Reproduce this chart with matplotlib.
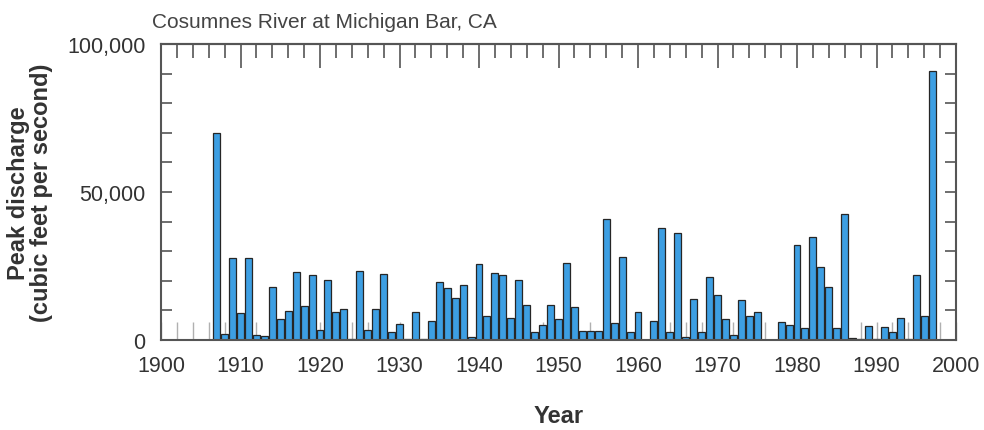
import numpy as np
import matplotlib
matplotlib.use("Agg")
import matplotlib.pyplot as plt

years = list(range(1907, 1998))
peak_cfs = [
    70000, 2000, 27800, 9100, 27800, 1700, 1200, 17800, 7100, 9900,   # 1907-1916
    22900, 11600, 22000, 3500, 20200, 9600, 10500, 500, 23200, 3300,  # 1917-1926
    10500, 22400, 2700, 5300, 400, 9400, 400, 6400, 19500, 17600,     # 1927-1936
    14200, 18700, 1100, 25700, 8200, 22600, 22000, 7400, 20400, 11800,  # 1937-1946
    2800, 5000, 11800, 7100, 26100, 11000, 3000, 3000, 3000, 40900,   # 1947-1956
    5700, 28100, 2800, 9600, np.nan, 6500, 37800, 2800, 36100, 1000,  # 1957-1966
    14000, 2800, 21400, 15300, 7100, 1700, 13600, 8000, 9400, np.nan,  # 1967-1976
    np.nan, 6200, 5200, 32200, 4000, 34700, 24600, 17800, 4000, 42600,  # 1977-1986
    600, 200, 4800, 300, 4500, 2800, 7400, 500, 22100, 8200,          # 1987-1996
    90800,                                                            # 1997
]
x_tick_labels = ["1900", "1910", "1920", "1930", "1940", "1950",
                 "1960", "1970", "1980", "1990", "2000"]
y_tick_labels = ["0", "50,000", "100,000"]

plt.rcParams['font.family'] = ['Liberation Sans', 'DejaVu Sans']

W, H = 984, 431
fig = plt.figure(figsize=(W / 100, H / 100), dpi=100)
L, R, B, T = 161, 956, 341, 45
ax = fig.add_axes([L / W, (H - B) / H, (R - L) / W, (B - T) / H])

ax.bar(years, peak_cfs, width=0.88, color="#3d9fe3", edgecolor="#262626",
       linewidth=0.9, zorder=2)

ax.set_xlim(1900, 2000)
ax.set_ylim(0, 100000)
ax.set_axisbelow(True)

xt = [int(s) for s in x_tick_labels]
ax.set_xticks(xt)
ax.set_xticklabels(x_tick_labels)
ax.set_xticks(np.arange(1900, 2001, 2), minor=True)
ax.tick_params(axis='x', which='both', direction='in', bottom=True, top=False,
               length=13, width=1.0, color="#b0b0b0", labelsize=15.5,
               labelcolor="#333333", pad=11)

yt = [int(s.replace(",", "")) for s in y_tick_labels]
ax.set_yticks(yt)
ax.set_yticklabels(y_tick_labels)
ax.set_yticks(np.arange(0, 100001, 10000), minor=True)
ax.tick_params(axis='y', which='both', direction='in', left=True, right=True,
               length=8, width=1.2, color="#555555", labelsize=15.5,
               labelcolor="#333333", pad=11)

top = ax.secondary_xaxis('top')
top.set_xticks(xt)
top.set_xticklabels([])
top.set_xticks(np.arange(1900, 2001, 2), minor=True)
top.tick_params(axis='x', which='major', direction='in', length=17, width=1.2,
                color="#555555")
top.tick_params(axis='x', which='minor', direction='in', length=10, width=1.2,
                color="#555555")
top.spines['top'].set_color("#555555")
top.spines['top'].set_linewidth(1.5)

for s in ax.spines.values():
    s.set_color("#555555")
    s.set_linewidth(1.5)

ax.set_ylabel("Peak discharge\n(cubic feet per second)", fontsize=17,
              fontweight='bold', color="#333333", labelpad=10, linespacing=1.05)
ax.set_xlabel("Year", fontsize=17, fontweight='bold', color="#333333",
              labelpad=20)

fig.text(152 / W, 1 - 23 / H, "Cosumnes River at Michigan Bar, CA",
         fontsize=15, color="#444444", ha='left', va='center')

fig.savefig("out.png", dpi=100)
